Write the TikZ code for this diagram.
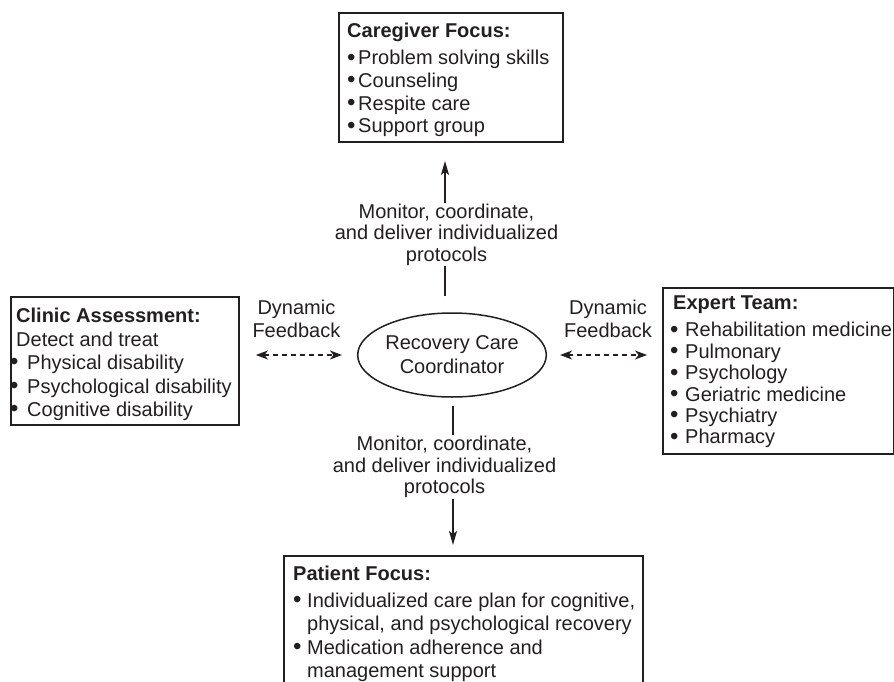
\documentclass[tikz,border=0pt]{standalone}
\usepackage{fontspec}
\setmainfont{Liberation Sans}
\usetikzlibrary{arrows.meta,shapes.geometric}
\definecolor{ink}{RGB}{35,31,32}
% bullet set in a box of given width
\newcommand\blt[1]{\makebox[#1][l]{\raisebox{-0.3pt}{\scalebox{1.2}{\textbullet}}}}
\begin{document}
\begin{tikzpicture}[x=1pt,y=-1pt,
  every node/.style={text=ink},
  frame/.style={draw=ink,line width=1.9pt,rectangle,inner sep=0pt,anchor=north west},
  body/.style={inner sep=0pt,anchor=north west,align=left},
  hub/.style={draw=ink,line width=1.5pt,ellipse,minimum width=172pt,minimum height=84pt,
    inner sep=0pt,align=center,font=\fontsize{20}{24}\selectfont},
  flow/.style={draw=ink,line width=1.4pt,-{Stealth[length=14pt,width=8pt,inset=3pt]}},
  fb/.style={draw=ink,line width=1.3pt,dash pattern=on 5pt off 4pt,
    {Stealth[length=12pt,width=9pt,inset=3.5pt]}-{Stealth[length=12pt,width=9pt,inset=3.5pt]}},
  note/.style={fill=white,inner sep=1pt,align=center,font=\fontsize{20}{21.5}\selectfont},
  fblabel/.style={inner sep=0pt,align=center,font=\fontsize{20}{23}\selectfont},
]
\useasboundingbox (0,0) rectangle (894,682);

% boxes
\node[frame,minimum width=224pt,minimum height=129pt] (care) at (338,12) {};
\node[frame,minimum width=228pt,minimum height=128pt] (clinic) at (10,296) {};
\node[frame,minimum width=231pt,minimum height=166pt] (expert) at (662,287) {};
\node[frame,minimum width=359pt,minimum height=160pt] (patient) at (283,555) {};
\node[hub] (hub) at (452,355) {Recovery Care\\Coordinator};

% box contents
\node[body,font=\fontsize{20}{22.7}\selectfont] (careT) at (347,23)
  {\textbf{Caregiver Focus:}\\[4.5pt]
   \blt{11pt}Problem solving skills\\
   \blt{11pt}Counseling\\
   \blt{11pt}Respite care\\
   \blt{11pt}Support group};

\node[body,font=\fontsize{20}{23.5}\selectfont] (clinicT) at (16,308)
  {\textbf{Clinic Assessment:}\\
   Detect and treat\\
   \hspace*{-6pt}\blt{17pt}Physical disability\\
   \hspace*{-6pt}\blt{17pt}Psychological disability\\
   \hspace*{-6pt}\blt{17pt}Cognitive disability};

\node[body,font=\fontsize{20}{21.4}\selectfont] (expertT) at (673,296)
  {\textbf{Expert Team:}\\[5.6pt]
   \hspace*{-3pt}\blt{15pt}Rehabilitation medicine\\
   \hspace*{-3pt}\blt{15pt}Pulmonary\\
   \hspace*{-3pt}\blt{15pt}Psychology\\
   \hspace*{-3pt}\blt{15pt}Geriatric medicine\\
   \hspace*{-3pt}\blt{15pt}Psychiatry\\
   \hspace*{-3pt}\blt{15pt}Pharmacy};

\node[body,font=\fontsize{20}{23}\selectfont] (patientT) at (293,566)
  {\textbf{Patient Focus:}\\[4pt]
   \blt{14pt}Individualized care plan for cognitive,\\
   \hspace*{14pt}physical, and psychological recovery\\[1pt]
   \blt{14pt}Medication adherence and\\
   \hspace*{14pt}management support};

% vertical connectors
\draw[flow,shorten <=16pt,shorten >=18pt]
  ([xshift=-7pt]hub.north) -- ([xshift=-7pt]hub.north |- care.south)
  node[note,pos=0.459,xshift=1.5pt] (upnote)
  {Monitor, coordinate,\\and deliver individualized\\protocols};

\draw[flow,shorten <=8pt,shorten >=10pt]
  ([xshift=1pt]hub.south) -- ([xshift=1pt]hub.south |- patient.north)
  node[note,pos=0.44,xshift=-8.5pt] (downnote)
  {Monitor, coordinate,\\and deliver individualized\\protocols};

% feedback connectors
\draw[fb,shorten <=16pt,shorten >=15pt]
  (hub.west -| clinic.east) -- (hub.west)
  node[fblabel,midway,above=17pt,xshift=-2pt] (fbL) {Dynamic\\Feedback};
\draw[fb,shorten <=13pt,shorten >=15pt]
  (hub.east) -- (hub.east -| expert.west)
  node[fblabel,midway,above=17pt,xshift=3.5pt] (fbR) {Dynamic\\Feedback};
\end{tikzpicture}
\end{document}
